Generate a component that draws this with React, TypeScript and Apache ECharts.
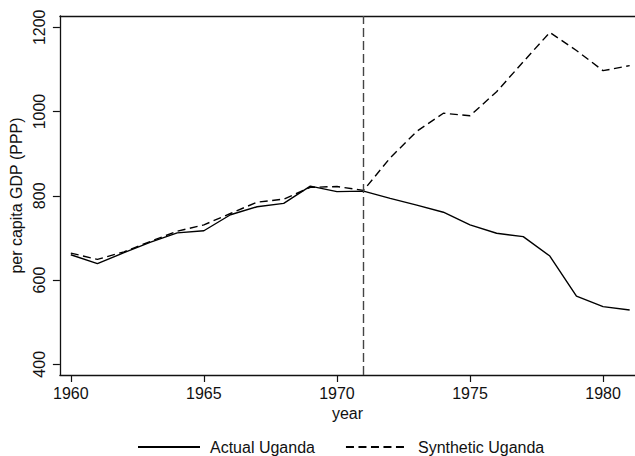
import React, { useEffect, useRef } from "react";
import * as echarts from "echarts";

const years = [1960, 1961, 1962, 1963, 1964, 1965, 1966, 1967, 1968, 1969, 1970, 1971, 1972, 1973, 1974, 1975, 1976, 1977, 1978, 1979, 1980, 1981];
const actualUganda = [660, 639, 665, 690, 712, 717, 755, 774, 782, 823, 810, 811, 794, 778, 761, 731, 711, 703, 657, 562, 537, 529];
const syntheticUganda = [664, 649, 667, 692, 716, 731, 758, 785, 792, 820, 822, 813, 890, 953, 996, 990, 1047, 1118, 1188, 1145, 1097, 1109];
const xTicks = [1960, 1965, 1970, 1975, 1980];
const yTicks = [400, 600, 800, 1000, 1200];
const treatmentYear = 1971;

const FONT = "'Liberation Sans', Arial, Helvetica, sans-serif";

export default function App() {
  const ref = useRef<HTMLDivElement>(null);
  useEffect(() => {
    document.body.style.margin = "0";
    const chart = echarts.init(ref.current!, null, { renderer: "svg" });
    const axisLine = { show: true, lineStyle: { color: "#111", width: 1.3 } };
    chart.setOption({
      animation: false,
      backgroundColor: "#fff",
      textStyle: { fontFamily: FONT },
      grid: { left: 58, top: 16, right: 0, bottom: 81 },
      legend: {
        left: 137,
        top: 439,
        padding: 0,
        itemWidth: 62,
        itemHeight: 14,
        itemGap: 30,
        itemStyle: { opacity: 0 },
        textStyle: { fontSize: 16, color: "#111", fontFamily: FONT, padding: [0, 0, 0, 5] },
        data: ["Actual Uganda", "Synthetic Uganda"],
      },
      xAxis: [
        {
          type: "value",
          min: 1959.59,
          max: 1981.2,
          name: "year",
          nameLocation: "middle",
          nameGap: 27,
          nameTextStyle: { fontSize: 16, color: "#111", fontFamily: FONT },
          axisLine,
          axisTick: { show: true, length: 7, customValues: xTicks, lineStyle: { color: "#111", width: 1.2 } },
          axisLabel: { customValues: xTicks, formatter: (v: number) => String(v), fontSize: 16, color: "#111", margin: 10, fontFamily: FONT },
          splitLine: { show: false },
        },
        {
          type: "value",
          position: "top",
          min: 1959.59,
          max: 1981.2,
          axisLine,
          axisTick: { show: false },
          axisLabel: { show: false },
          splitLine: { show: false },
        },
      ],
      yAxis: {
        type: "value",
        min: 374.6,
        max: 1226.8,
        name: "per capita GDP (PPP)",
        nameLocation: "middle",
        nameGap: 27,
        nameRotate: 90,
        nameTextStyle: { fontSize: 16, color: "#111", fontFamily: FONT },
        axisLine,
        axisTick: { show: true, length: 7, customValues: yTicks, lineStyle: { color: "#111", width: 1.2 } },
        axisLabel: { customValues: yTicks, formatter: (v: number) => String(v), rotate: 90, fontSize: 16, color: "#111", margin: 12, fontFamily: FONT },
        splitLine: { show: false },
      },
      series: [
        {
          name: "Actual Uganda",
          type: "line",
          symbol: "none",
          data: years.map((y, i) => [y, actualUganda[i]]),
          lineStyle: { color: "#000", width: 1.4, type: "solid" },
          itemStyle: { color: "#000" },
          markLine: {
            silent: true,
            symbol: "none",
            label: { show: false },
            lineStyle: { color: "#444", width: 1.4, type: [9, 4] },
            data: [{ xAxis: treatmentYear }],
          },
        },
        {
          name: "Synthetic Uganda",
          type: "line",
          symbol: "none",
          data: years.map((y, i) => [y, syntheticUganda[i]]),
          lineStyle: { color: "#000", width: 1.4, type: [8, 4.5] },
          itemStyle: { color: "#000" },
        },
      ],
    });
    return () => chart.dispose();
  }, []);
  return <div ref={ref} style={{ width: 635, height: 456 }} />;
}
